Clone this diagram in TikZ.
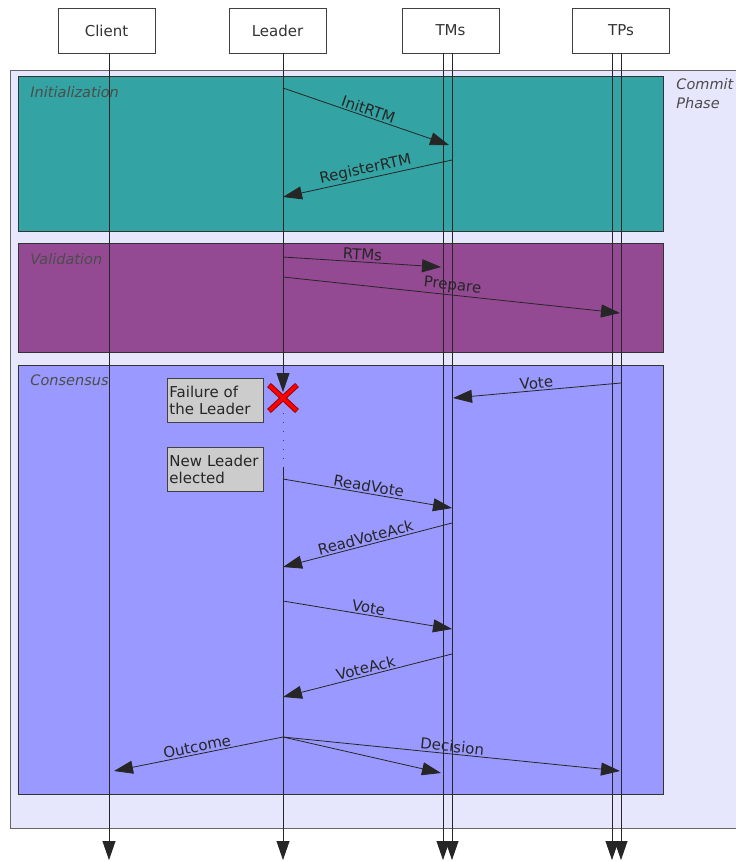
\documentclass[tikz,border=0pt]{standalone}
\usepackage{fontspec}
\setmainfont{DejaVu Sans}
\usepackage{tikz}
\usetikzlibrary{arrows.meta}
\definecolor{commitbg}{HTML}{E6E6FC}
\definecolor{initbg}{HTML}{33A3A3}
\definecolor{validbg}{HTML}{934A93}
\definecolor{consbg}{HTML}{9999FF}
\definecolor{notebg}{HTML}{CCCCCC}
\tikzstyle{actor} = [rectangle, draw=black!75, fill=white, minimum width=97pt, minimum height=45pt, inner sep=0pt, font=\fontsize{15}{18}\selectfont, text=black!80]
\tikzstyle{phase} = [-, draw=black!80, line width=0.8pt]
\tikzstyle{phaselabel} = [font=\fontsize{14.5}{19}\selectfont\itshape, text=black!70, inner sep=0pt]
\tikzstyle{note} = [rectangle, draw=black!75, fill=notebg, text width=92pt, align=left, minimum height=44pt, inner sep=2pt, anchor=north west, font=\fontsize{15}{17.5}\selectfont, text=black!85]
\tikzstyle{msg} = [sloped, above, inner sep=1.5pt, font=\fontsize{15}{18}\selectfont, text=black!85]

\begin{document}
\begin{tikzpicture}[x=1pt,y=-1pt,->,>={Triangle[length=19pt,width=13pt]},line width=0.8pt,draw=black!85]
  \useasboundingbox (0,0) rectangle (736,862);

  \fill[commitbg] (10,70) rectangle (736,828);
  \draw[phase, draw=black!60] (736,70) -- (10,70) -- (10,828) -- (736,828);
  \node[phaselabel, anchor=north west, align=left] (Commit) at (676,78) {Commit\\Phase};
  \draw[phase, fill=initbg] (18,76) rectangle (663,231);
  \draw[phase, fill=validbg] (18,243) rectangle (663,352);
  \draw[phase, fill=consbg] (18,365) rectangle (663,794);
  \node[phaselabel, anchor=west] (Init) at (30,92) {Initialization};
  \node[phaselabel, anchor=west] (Valid) at (30,259) {Validation};
  \node[phaselabel, anchor=west] (Cons) at (30,380) {Consensus};

  \node[actor] (Client) at (106.5,30.5) {Client};
  \node[actor] (Leader) at (277.5,30.5) {Leader};
  \node[actor] (TMs) at (450.5,30.5) {TMs};
  \node[actor] (TPs) at (621,30.5) {TPs};

  \coordinate (Client_top) at (109,53);
  \coordinate (Client_end) at (109,860);
  \coordinate (Leader_top) at (283,53);
  \coordinate (Leader_fail) at (283,392);
  \coordinate (Leader_X) at (283,398);
  \coordinate (Leader_dead) at (283,413);
  \coordinate (Leader_back) at (283,462);
  \coordinate (Leader_new) at (283,467);
  \coordinate (Leader_end) at (283,860);
  \coordinate (TMs_a_top) at (443,53);
  \coordinate (TMs_a_end) at (443,860);
  \coordinate (TMs_b_top) at (452,53);
  \coordinate (TMs_b_end) at (452,860);
  \coordinate (TPs_a_top) at (612,53);
  \coordinate (TPs_a_end) at (612,860);
  \coordinate (TPs_b_top) at (621,53);
  \coordinate (TPs_b_end) at (621,860);

  \draw (Client_top) -- (Client_end);
  \draw (Leader_top) -- (Leader_fail);
  \draw[-, draw=black!75, line width=1pt, dash pattern=on 1pt off 8pt] (Leader_dead) -- (Leader_back);
  \draw (Leader_new) -- (Leader_end);
  \draw (TMs_a_top) -- (TMs_a_end);
  \draw (TMs_b_top) -- (TMs_b_end);
  \draw (TPs_a_top) -- (TPs_a_end);
  \draw (TPs_b_top) -- (TPs_b_end);

  \draw[-, line width=5.5pt, red!60!black] ([shift={(-14,-13)}]Leader_X) -- ([shift={(14,13)}]Leader_X);
  \draw[-, line width=5.5pt, red!60!black] ([shift={(-14,13)}]Leader_X) -- ([shift={(14,-13)}]Leader_X);
  \draw[-, line width=3.5pt, red] ([shift={(-13.5,-12.5)}]Leader_X) -- ([shift={(13.5,12.5)}]Leader_X);
  \draw[-, line width=3.5pt, red] ([shift={(-13.5,12.5)}]Leader_X) -- ([shift={(13.5,-12.5)}]Leader_X);

  \node[note] (Failure) at (167,378) {Failure of\\the Leader};
  \node[note] (Elected) at (167,447) {New Leader\\elected};

  \coordinate (L_initrtm) at (283,88);
  \coordinate (TM_initrtm) at (449,145);
  \coordinate (TM_register) at (452,160);
  \coordinate (L_register) at (283,197);
  \coordinate (L_rtms) at (283,257);
  \coordinate (TM_rtms) at (441,267);
  \coordinate (L_prepare) at (283,277);
  \coordinate (TP_prepare) at (620,313);
  \coordinate (TP_vote) at (621,383);
  \coordinate (TM_vote) at (453,398);
  \coordinate (L_readvote) at (283,479);
  \coordinate (TM_readvote) at (452,508);
  \coordinate (TM_readack) at (452,523);
  \coordinate (L_readack) at (283,567);
  \coordinate (L_vote) at (283,601);
  \coordinate (TM_vote2) at (452,629);
  \coordinate (TM_voteack) at (452,654);
  \coordinate (L_voteack) at (283,697);
  \coordinate (L_outcome) at (283,737);
  \coordinate (C_outcome) at (114,771);
  \coordinate (TM_decision) at (441,773);
  \coordinate (TP_decision) at (620,771);

  \path (L_initrtm) edge node[msg] {InitRTM} (TM_initrtm);
  \path (TM_register) edge node[msg] {RegisterRTM} (L_register);
  \path (L_rtms) edge node[msg] {RTMs} (TM_rtms);
  \path (L_prepare) edge node[msg] {Prepare} (TP_prepare);
  \path (TP_vote) edge node[msg] {Vote} (TM_vote);
  \path (L_readvote) edge node[msg] {ReadVote} (TM_readvote);
  \path (TM_readack) edge node[msg] {ReadVoteAck} (L_readack);
  \path (L_vote) edge node[msg] {Vote} (TM_vote2);
  \path (TM_voteack) edge node[msg] {VoteAck} (L_voteack);
  \path (L_outcome) edge node[msg] {Outcome} (C_outcome);
  \path (L_outcome) edge (TM_decision);
  \path (L_outcome) edge node[msg] {Decision} (TP_decision);
\end{tikzpicture}
\end{document}
